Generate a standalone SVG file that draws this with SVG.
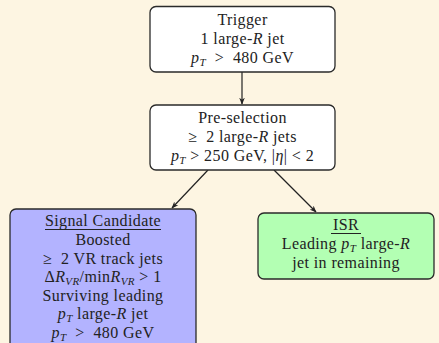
<svg xmlns="http://www.w3.org/2000/svg" width="439" height="343" viewBox="0 0 439 343">
<defs>
<marker id="ah" viewBox="0 0 10 10" refX="9" refY="5" markerWidth="7" markerHeight="7" orient="auto-start-reverse" markerUnits="userSpaceOnUse">
<path d="M0,1 L10,5 L0,9 L3,5 Z" fill="#222"/>
</marker>
<style>
.box{stroke:#2a2a2a;stroke-width:1.3}
.t{font-family:"Liberation Serif","DejaVu Serif",serif;font-size:16px;letter-spacing:0.4px;fill:#222;text-anchor:middle;white-space:pre}
.i{font-style:italic}
.s{font-size:11px;font-style:italic}
.c{stroke:#222;stroke-width:1.2;fill:none;marker-end:url(#ah)}
</style>
</defs>
<rect width="439" height="343" fill="#fdf5e2"/>
<g id="connectors">
<line class="c" x1="242" y1="72" x2="242" y2="104"/>
<line class="c" x1="208" y1="170" x2="172" y2="208"/>
<line class="c" x1="274" y1="170" x2="316" y2="212"/>
</g>
<g id="trigger">
<rect class="box" x="150" y="6.5" width="185" height="65.5" rx="6" fill="#ffffff"/>
<text class="t" x="242.5" y="25">Trigger</text>
<text class="t" x="242.5" y="44">1 large-<tspan class="i">R</tspan> jet</text>
<text class="t" x="242.5" y="63"><tspan class="i">p</tspan><tspan class="s" dy="3">T</tspan><tspan dy="-3">  &gt;  480 GeV</tspan></text>
</g>
<g id="preselection">
<rect class="box" x="150" y="105" width="185" height="65" rx="6" fill="#ffffff"/>
<text class="t" x="242.5" y="123">Pre-selection</text>
<text class="t" x="242.5" y="142">≥  2 large-<tspan class="i">R</tspan> jets</text>
<text class="t" x="242.5" y="161"><tspan class="i">p</tspan><tspan class="s" dy="3">T</tspan><tspan dy="-3"> &gt; 250 GeV, |</tspan><tspan class="i">η</tspan>| &lt; 2</text>
</g>
<g id="signal">
<rect class="box" x="10" y="209" width="186" height="140" rx="6" fill="#b3b3ff"/>
<text class="t" x="103" y="226">Signal Candidate</text>
<line x1="45" y1="229.5" x2="161" y2="229.5" stroke="#222" stroke-width="1"/>
<text class="t" x="103" y="245">Boosted</text>
<text class="t" x="103" y="263.5">≥  2 VR track jets</text>
<text class="t" x="103" y="282">Δ<tspan class="i">R</tspan><tspan class="s" dy="3">VR</tspan><tspan dy="-3">/min</tspan><tspan class="i">R</tspan><tspan class="s" dy="3">VR</tspan><tspan dy="-3"> &gt; 1</tspan></text>
<text class="t" x="103" y="300.5">Surviving leading</text>
<text class="t" x="103" y="319"><tspan class="i">p</tspan><tspan class="s" dy="3">T</tspan><tspan dy="-3"> large-</tspan><tspan class="i">R</tspan> jet</text>
<text class="t" x="103" y="337.5"><tspan class="i">p</tspan><tspan class="s" dy="3">T</tspan><tspan dy="-3">  &gt;  480 GeV</tspan></text>
</g>
<g id="isr">
<rect class="box" x="258" y="213" width="176" height="66" rx="6" fill="#b3ffb3"/>
<text class="t" x="346" y="230">ISR</text>
<line x1="331" y1="233.5" x2="361" y2="233.5" stroke="#222" stroke-width="1"/>
<text class="t" x="346" y="249"><tspan>Leading </tspan><tspan class="i">p</tspan><tspan class="s" dy="3">T</tspan><tspan dy="-3"> large-</tspan><tspan class="i">R</tspan></text>
<text class="t" x="346" y="268">jet in remaining</text>
</g>
</svg>
